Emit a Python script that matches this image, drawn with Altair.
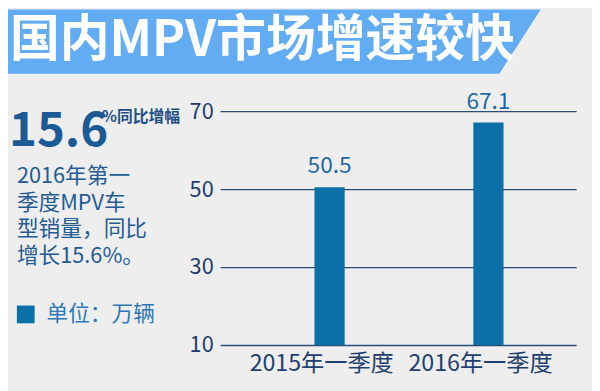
import altair as alt
import pandas as pd

# ---- content ----
title_text = "国内MPV市场增速较快"
big_number = "15.6"
big_suffix = "%同比增幅"
note_lines = ["2016年第一", "季度MPV车", "型销量，同比", "增长15.6%。"]
unit_text = "单位：万辆"
quarters = ["2015年一季度", "2016年一季度"]
sales = [50.5, 67.1]
y_ticks = [10, 30, 50, 70]

FONT = "Noto Sans CJK SC"
BG = "#eeeeee"
BAR = "#0b6fa8"
W, H = 361, 237
PAD_L, PAD_T = 215, 102

data = pd.DataFrame({"quarter": quarters, "sales": sales})
one = pd.DataFrame({"k": [0]})

# ---- banner (decorative parallelogram, pixel space) ----
banner_df = pd.DataFrame({"py": [-103, -38], "px0": [-230, -230], "px1": [325, 283]})
banner = alt.Chart(banner_df).mark_area(orient="horizontal", color="#62acf3", opacity=1).encode(
    y=alt.Y("py:Q", scale=None, axis=None),
    x=alt.X("px0:Q", scale=None, axis=None),
    x2="px1:Q",
)


def label(txt, x, y, size, color, weight="normal", baseline="alphabetic", **kw):
    return alt.Chart(one).mark_text(
        align="left", baseline=baseline, font=FONT, fontSize=size,
        fontWeight=weight, color=color, **kw
    ).encode(text=alt.value(txt), x=alt.value(x), y=alt.value(y))


title = label(title_text, -213, -71, 50.5, "white", "bold", baseline="middle")
big = label(big_number, -214, 35, 48, "#1c5a96", "bold")
suffix = label(big_suffix, -120, 11, 16, "#1f4f85", "bold")
notes = label(note_lines, -206, 73, 22, "#245b94", lineHeight=27)
unit = label(unit_text, -176, 206, 22, "#2f78b6", baseline="middle")
unit_box = alt.Chart(one).mark_rect(color=BAR).encode(
    x=alt.value(-206), x2=alt.value(-188), y=alt.value(197), y2=alt.value(215)
)

# ---- bars ----
x_enc = alt.X(
    "quarter:N", sort=quarters, title=None,
    scale=alt.Scale(paddingInner=0.81, paddingOuter=0.526, align=0.565),
    axis=alt.Axis(labelAngle=0, labelFont=FONT, labelFontSize=23.5, labelColor="#1f3f6e",
                  labelPadding=7, labelOffset=-8, domain=False, ticks=False, grid=False),
)
y_enc = alt.Y(
    "sales:Q", title=None,
    scale=alt.Scale(domain=[10, 70], nice=False, zero=False),
    axis=alt.Axis(values=y_ticks, labelFont=FONT, labelFontSize=22, labelColor="#1e3c6e",
                  labelPadding=7, domain=False, ticks=False,
                  gridColor="#2b4c7a", gridWidth=1.3, gridOpacity=1),
)
base = alt.Chart(data)
bars = base.mark_bar(color=BAR).encode(x=x_enc, y=y_enc, y2=alt.datum(10))
vals = base.mark_text(font=FONT, fontSize=23, color="#1f6aa5", baseline="bottom", dy=-9).encode(
    x=alt.X("quarter:N", sort=quarters), y="sales:Q", text=alt.Text("sales:Q", format=".1f")
)

main = alt.layer(bars, vals)

chart = alt.layer(banner, title, big, suffix, notes, unit_box, unit, main).resolve_scale(
    x="independent", y="independent"
).properties(
    width=W, height=H, background=BG,
    padding={"left": PAD_L, "top": PAD_T, "right": 600 - 8 - PAD_L - W, "bottom": 391 - 8 - PAD_T - H},
    autosize=alt.AutoSizeParams(type="none"),
).configure_view(stroke=None)

chart.save("out.html", embed_options={"renderer": "svg", "actions": False})
